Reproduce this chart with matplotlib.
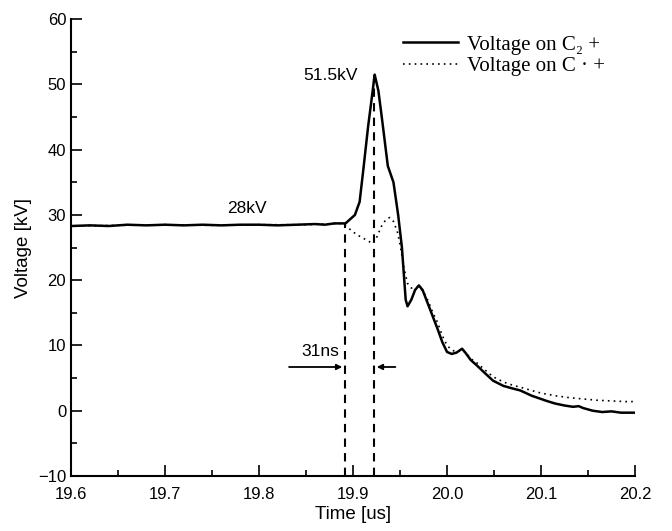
import matplotlib.pyplot as plt
import numpy as np

# C2 voltage (solid)
t_c2 = [19.600, 19.620, 19.640, 19.660, 19.680, 19.700, 19.720, 19.740, 19.760, 19.780,
        19.800, 19.820, 19.840, 19.860, 19.870, 19.880, 19.892, 19.902, 19.907, 19.911,
        19.916, 19.920, 19.923, 19.927, 19.931, 19.937, 19.943, 19.948, 19.952, 19.956,
        19.958, 19.962, 19.966, 19.970, 19.974, 19.978, 19.982, 19.986, 19.990, 19.995,
        20.000, 20.005, 20.010, 20.016, 20.020, 20.025, 20.032, 20.040, 20.049, 20.060,
        20.070, 20.078, 20.090, 20.100, 20.106, 20.115, 20.125, 20.134, 20.140, 20.145,
        20.155, 20.165, 20.175, 20.185, 20.200]
v_c2 = [28.3, 28.4, 28.3, 28.5, 28.4, 28.5, 28.4, 28.5, 28.4, 28.5,
        28.5, 28.4, 28.5, 28.6, 28.5, 28.7, 28.7, 30.0, 32.0, 37.0,
        43.5, 48.0, 51.5, 49.0, 44.5, 37.5, 35.0, 30.0, 25.0, 17.0,
        16.0, 17.0, 18.5, 19.2, 18.5, 17.0, 15.5, 14.0, 12.5, 10.5,
        9.0, 8.7, 8.9, 9.5, 8.8, 7.8, 6.9, 5.8, 4.6, 3.8,
        3.4, 3.1, 2.3, 1.8, 1.5, 1.1, 0.8, 0.6, 0.7, 0.4,
        0.0, -0.2, -0.1, -0.3, -0.3]

# C1 voltage (dotted)
t_c1 = [19.600, 19.650, 19.700, 19.750, 19.800, 19.850, 19.888, 19.895, 19.900, 19.905,
        19.910, 19.915, 19.921, 19.925, 19.930, 19.935, 19.939, 19.943, 19.947, 19.950,
        19.954, 19.958, 19.962, 19.966, 19.970, 19.975, 19.980, 19.985, 19.990, 19.995,
        20.000, 20.005, 20.010, 20.016, 20.020, 20.025, 20.032, 20.040, 20.049, 20.060,
        20.070, 20.078, 20.090, 20.100, 20.115, 20.130, 20.145, 20.160, 20.175, 20.190,
        20.200]
v_c1 = [28.3, 28.4, 28.5, 28.4, 28.5, 28.5, 28.7, 28.0, 27.4, 26.9,
        26.5, 26.1, 25.6, 26.5, 28.2, 29.3, 29.6, 29.0, 27.5, 25.5,
        22.0, 19.5, 18.8, 18.8, 19.0, 18.2, 16.8, 15.0, 13.5, 11.5,
        10.0, 9.3, 9.0, 9.3, 8.9, 8.0, 7.3, 6.3, 5.2, 4.4,
        3.9, 3.6, 3.1, 2.7, 2.3, 2.0, 1.8, 1.6, 1.5, 1.4,
        1.4]

t_start = 19.8915
t_peak = 19.9223
v_start = 28.7
v_peak = 51.5

fig = plt.figure(figsize=(6.72, 5.31), dpi=100)
ax = fig.add_axes([0.1057, 0.1036, 0.8393, 0.8604])

ax.plot(t_c2, v_c2, color='black', lw=1.8, label='Voltage on C\u2082 +')
ax.plot(t_c1, v_c1, color='black', lw=1.2, ls=(0, (1, 2.5)), label='Voltage on C \u00b7 +')

ax.vlines([t_start, t_peak], -10, [v_start, v_peak], colors='black', lw=1.5,
          linestyles=(0, (4, 3)))

# 31 ns arrows
ax.annotate('', xy=(t_start, 6.7), xytext=(19.829, 6.7),
            arrowprops=dict(arrowstyle='-|>', color='black', lw=1.3, mutation_scale=8))
ax.annotate('', xy=(t_peak, 6.7), xytext=(19.948, 6.7),
            arrowprops=dict(arrowstyle='-|>', color='black', lw=1.3, mutation_scale=8))

ax.text(19.865, 9.0, '31ns', ha='center', va='center', fontsize=12.5, family='Liberation Sans')
ax.text(19.876, 51.3, '51.5kV', ha='center', va='center', fontsize=12.5, family='Liberation Sans')
ax.text(19.787, 31.0, '28kV', ha='center', va='center', fontsize=12.5, family='Liberation Sans')

ax.set_xlim(19.6, 20.2)
ax.set_ylim(-10, 60)
ax.set_xticks(np.arange(19.6, 20.21, 0.1))
ax.set_xticklabels(['19.6', '19.7', '19.8', '19.9', '20.0', '20.1', '20.2'])
ax.set_xticks(np.arange(19.65, 20.2, 0.1), minor=True)
ax.set_yticks(np.arange(-10, 61, 10))
ax.set_yticks(np.arange(-5, 60, 10), minor=True)

for s in ['top', 'right']:
    ax.spines[s].set_visible(False)
for s in ['left', 'bottom']:
    ax.spines[s].set_linewidth(1.5)

ax.tick_params(which='major', direction='in', length=8, width=1.2, labelsize=12)
ax.tick_params(which='minor', direction='in', length=4, width=1.2)
ax.tick_params(axis='x', which='major', pad=8)
for lab in ax.get_xticklabels() + ax.get_yticklabels():
    lab.set_family('Liberation Sans')

ax.set_xlabel('Time [us]', fontsize=13.5, family='Liberation Sans', labelpad=3)
ax.set_ylabel('Voltage [kV]', fontsize=13.5, family='Liberation Sans', labelpad=4)

ax.legend(loc='upper left', bbox_to_anchor=(403 / 672, 1 - 35 / 531),
          bbox_transform=fig.transFigure, frameon=False, borderpad=0, borderaxespad=0,
          prop={'family': 'Liberation Serif', 'size': 15}, handlelength=2.65,
          handletextpad=0.4, labelspacing=0.1)

fig.savefig('out.png', dpi=100)
